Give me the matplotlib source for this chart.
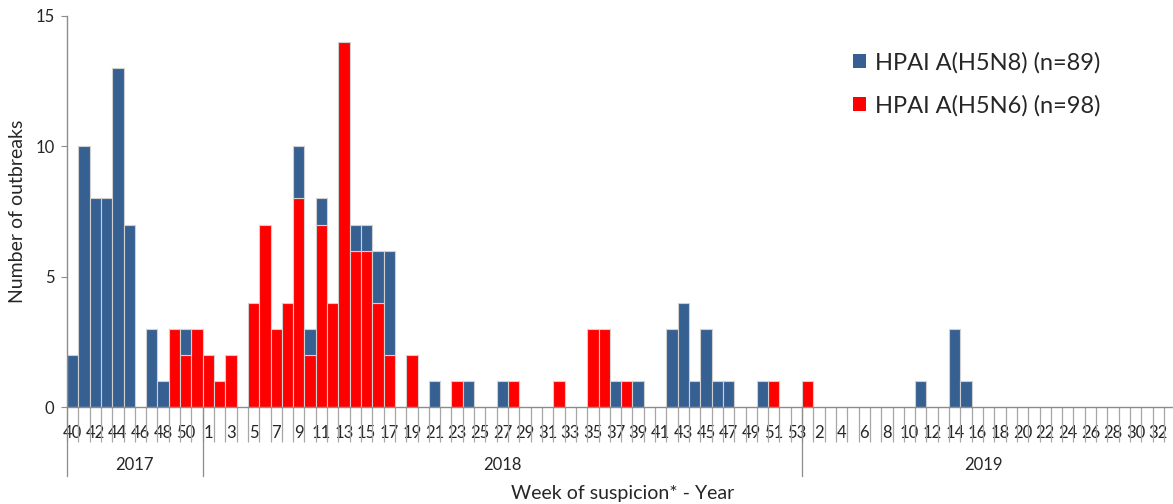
import numpy as np
import matplotlib
matplotlib.use('Agg')
import matplotlib.pyplot as plt
from matplotlib.patches import Patch
import matplotlib.transforms as mtransforms

FONT = ['Lato', 'DejaVu Sans']
plt.rcParams['font.family'] = FONT

# ---- categories ----
years = ['2017', '2018', '2019']
weeks_2017 = [40, 41, 42, 43, 44, 45, 46, 47, 48, 49, 50, 51]
weeks_2018 = [1, 2, 3, 4, 5, 6, 7, 8, 9, 10, 11, 12, 13, 14, 15, 16, 17, 18, 19, 20,
              21, 22, 23, 24, 25, 26, 27, 28, 29, 30, 31, 32, 33, 34, 35, 36, 37, 38, 39, 40,
              41, 42, 43, 44, 45, 46, 47, 48, 49, 50, 51, 52, 53]
weeks_2019 = [1, 2, 3, 4, 5, 6, 7, 8, 9, 10, 11, 12, 13, 14, 15, 16, 17, 18, 19, 20,
              21, 22, 23, 24, 25, 26, 27, 28, 29, 30, 31, 32]

# ---- series values ----
h5n8_2017 = [2, 10, 8, 8, 13, 7, 0, 3, 1, 0, 1, 0]
h5n6_2017 = [0, 0, 0, 0, 0, 0, 0, 0, 0, 3, 2, 3]

h5n8_2018 = [0, 0, 0, 0, 0, 0, 0, 0, 2, 1,
             1, 0, 0, 1, 1, 2, 4, 0, 0, 0,
             1, 0, 0, 1, 0, 0, 1, 0, 0, 0,
             0, 0, 0, 0, 0, 0, 1, 0, 1, 0,
             0, 3, 4, 1, 3, 1, 1, 0, 0, 1,
             0, 0, 0]
h5n6_2018 = [2, 1, 2, 0, 4, 7, 3, 4, 8, 2,
             7, 4, 14, 6, 6, 4, 2, 0, 2, 0,
             0, 0, 1, 0, 0, 0, 0, 1, 0, 0,
             0, 1, 0, 0, 3, 3, 0, 1, 0, 0,
             0, 0, 0, 0, 0, 0, 0, 0, 0, 0,
             1, 0, 0]

h5n8_2019 = [0, 0, 0, 0, 0, 0, 0, 0, 0, 0,
             1, 0, 0, 3, 1, 0, 0, 0, 0, 0,
             0, 0, 0, 0, 0, 0, 0, 0, 0, 0,
             0, 0]
h5n6_2019 = [1, 0, 0, 0, 0, 0, 0, 0, 0, 0,
             0, 0, 0, 0, 0, 0, 0, 0, 0, 0,
             0, 0, 0, 0, 0, 0, 0, 0, 0, 0,
             0, 0]

series_labels = ['HPAI A(H5N8) (n=89)', 'HPAI A(H5N6) (n=98)']
x_title = 'Week of suspicion* - Year'
y_title = 'Number of outbreaks'

weeks = weeks_2017 + weeks_2018 + weeks_2019
h5n8 = np.array(h5n8_2017 + h5n8_2018 + h5n8_2019, dtype=float)
h5n6 = np.array(h5n6_2017 + h5n6_2018 + h5n6_2019, dtype=float)
year_sizes = [len(weeks_2017), len(weeks_2018), len(weeks_2019)]
n = len(weeks)

BLUE = '#376092'
RED = '#FF0000'
EDGE = '#D0D0D0'
AX = '#8C8C8C'
TXT = '#262626'

W, H = 1173, 504
fig = plt.figure(figsize=(W / 100, H / 100), dpi=100)
ax = fig.add_axes([67 / W, 1 - 407 / H, (W - 67) / W, 391 / H])

x = np.arange(n) + 0.5
m6 = h5n6 > 0
ax.bar(x[m6], h5n6[m6], width=1.0, color=RED, edgecolor=EDGE, linewidth=0.8, zorder=2)
m8 = h5n8 > 0
ax.bar(x[m8], h5n8[m8], bottom=h5n6[m8], width=1.0, color=BLUE, edgecolor=EDGE,
       linewidth=0.8, zorder=2)

ax.set_xlim(0, 97.8)
ax.set_ylim(0, 15)

for s in ['top', 'right']:
    ax.spines[s].set_visible(False)
for s in ['left', 'bottom']:
    ax.spines[s].set_color(AX)
    ax.spines[s].set_linewidth(1.0)

ax.set_yticks([0, 5, 10, 15])
ax.tick_params(axis='y', length=4, color=AX, labelsize=12, labelcolor=TXT, pad=5)

ax.set_xticks(x[::2])
ax.set_xticklabels([str(w) for w in weeks][::2])
ax.tick_params(axis='x', which='major', length=0, labelsize=12, labelcolor=TXT, pad=13)
ax.set_xticks(np.arange(n + 1), minor=True)
ax.tick_params(axis='x', which='minor', length=25, color='#A6A6A6', width=0.9)

trans = mtransforms.blended_transform_factory(ax.transData, ax.transAxes)
bounds = [0, year_sizes[0], year_sizes[0] + year_sizes[1]]
for b in bounds:
    ax.plot([b, b], [0, -69 / 391], transform=trans, color=AX, lw=0.9, clip_on=False)
start = 0
for yr, sz in zip(years, year_sizes):
    ax.text(start + sz / 2, -58 / 391, yr, transform=trans, ha='center', va='center',
            fontsize=12, color=TXT)
    start += sz

fig.text(623 / W, 1 - 493 / H, x_title, ha='center', va='center', fontsize=14, color=TXT)
fig.text(18 / W, 1 - 211 / H, y_title, ha='center', va='center', rotation=90,
         fontsize=14, color=TXT)

handles = [Patch(facecolor=BLUE, edgecolor='none'), Patch(facecolor=RED, edgecolor='none')]
ax.legend(handles, series_labels, loc='upper left', bbox_to_anchor=(853 / W, 1 - 52 / H),
          bbox_transform=fig.transFigure, frameon=False, fontsize=17, borderpad=0,
          borderaxespad=0, handlelength=0.55, handleheight=0.55, handletextpad=0.4,
          labelspacing=0.9, labelcolor=TXT)

fig.savefig('out.png', dpi=100)
